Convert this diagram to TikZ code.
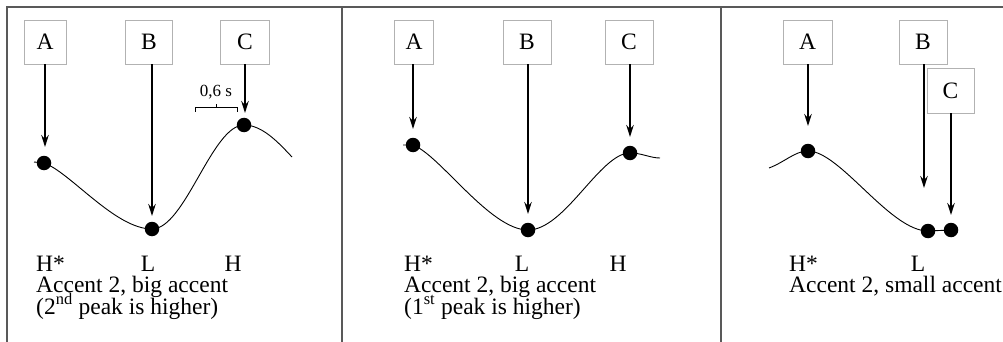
\documentclass[tikz,border=0pt]{standalone}
\usepackage{fontspec}
\setmainfont{Liberation Serif}
\usetikzlibrary{arrows.meta}
\begin{document}
\begin{tikzpicture}[x=1pt,y=-1pt,
  frame/.style={draw=black!65,line width=1.3pt},
  lbox/.style={draw=black!30,fill=white,line width=0.8pt,minimum height=44pt,inner sep=0pt,
     font=\fontsize{23.5}{27}\selectfont},
  arr/.style={line width=1.5pt,-{Stealth[length=12pt,width=7.5pt]}},
  dot/.style={circle,fill=black,minimum size=14.5pt,inner sep=0pt},
  curve/.style={line width=0.9pt},
  lab/.style={anchor=base,inner sep=0pt,text height=15pt,text depth=4pt,
     font=\fontsize{23.5}{27}\selectfont},
  labw/.style={lab,anchor=base west}]
\useasboundingbox (0,0) rectangle (1003,342);
% frame
\draw[frame] (7,342) -- (7,7) -- (1003,7);
\draw[frame] (342,7) -- (342,342);
\draw[frame] (721,7) -- (721,342);

% ---------- panel 1 ----------
\node[lbox,minimum width=42pt] (A1) at (45,42) {A};
\node[lbox,minimum width=47pt] (B1) at (149,42) {B};
\node[lbox,minimum width=49pt] (C1) at (245,42) {C};
\node[dot] (dA1) at (44,163) {};
\node[dot] (dB1) at (152,229) {};
\node[dot] (dC1) at (244,125) {};
\coordinate (tA1) at (45,147);
\coordinate (tB1) at (152,216);
\coordinate (tC1) at (245,113);
\coordinate (s1) at (34,162);
\coordinate (e1) at (292,157);
\draw[curve] (s1) -- (dA1.center) .. controls (70,172) and (115,229) .. (dB1.center)
  .. controls (185,229) and (212,125) .. (dC1.center)
  .. controls (262,125) and (278,142) .. (e1);
\draw[arr] (A1.south -| tA1) -- (tA1);
\draw[arr] (B1.south -| tB1) -- (tB1);
\draw[arr] (C1.south -| tC1) -- (tC1);
% bracket 0,6 s
\coordinate (br1) at (195,112);
\coordinate (br2) at (237,112);
\coordinate (br1t) at (195,107);
\coordinate (br2t) at (237,107);
\draw[line width=0.9pt] (br1) -- (br1t) -- (br2t) -- (br2);
\draw[line width=0.9pt] (216,107) -- (216,104);
\node[anchor=base,inner sep=0pt,font=\fontsize{17}{20}\selectfont] (t06) at (216,97) {0,6 s};
\node[labw] (h1) at (36,271) {H*};
\node[lab] (l1) at (148,271) {L};
\node[lab] (hh1) at (233,271) {H};
\node[labw] (acc1) at (36,292) {Accent 2, big accent};
\node[labw] (p1) at (36,314) {(2\textsuperscript{nd} peak is higher)};

% ---------- panel 2 ----------
\node[lbox,minimum width=39pt] (A2) at (414,42) {A};
\node[lbox,minimum width=48pt] (B2) at (527,42) {B};
\node[lbox,minimum width=48pt] (C2) at (629,42) {C};
\node[dot] (dA2) at (413,145) {};
\node[dot] (dB2) at (528,230) {};
\node[dot] (dC2) at (630,153) {};
\coordinate (tA2) at (413,129);
\coordinate (tB2) at (528,214);
\coordinate (tC2) at (630,137);
\coordinate (s2) at (403,145);
\coordinate (e2) at (660,158);
\draw[curve] (s2) -- (dA2.center) .. controls (440,155) and (490,230) .. (dB2.center)
  .. controls (565,230) and (600,153) .. (dC2.center)
  .. controls (642,153) and (650,158) .. (e2);
\draw[arr] (A2.south -| tA2) -- (tA2);
\draw[arr] (B2.south -| tB2) -- (tB2);
\draw[arr] (C2.south -| tC2) -- (tC2);
\node[labw] (h2) at (404,271) {H*};
\node[lab] (l2) at (522,271) {L};
\node[lab] (hh2) at (618,271) {H};
\node[labw] (acc2) at (404,292) {Accent 2, big accent};
\node[labw] (p2) at (404,314) {(1\textsuperscript{st} peak is higher)};

% ---------- panel 3 ----------
\node[lbox,minimum width=49pt] (A3) at (807.5,42) {A};
\node[lbox,minimum width=48pt] (B3) at (923,42) {B};
\node[dot] (dA3) at (808,151) {};
\node[dot] (dB3) at (928,231) {};
\node[dot] (dC3) at (951,230) {};
\coordinate (tA3) at (808,126);
\coordinate (tB3) at (924,188);
\coordinate (tC3) at (951,215);
\coordinate (s3) at (769,168);
\draw[curve] (s3) .. controls (785,162) and (795,151) .. (dA3.center)
  .. controls (840,151) and (890,231) .. (dB3.center) -- (dC3.center);
\draw[arr] (B3.south -| tB3) -- (tB3);
\node[lbox,minimum width=47pt,minimum height=45pt] (C3) at (950.5,90.5) {C};
\draw[arr] (A3.south -| tA3) -- (tA3);
\draw[arr] (C3.south -| tC3) -- (tC3);
\node[labw] (h3) at (789,271) {H*};
\node[lab] (l3) at (918,271) {L};
\node[labw] (acc3) at (789,292) {Accent 2, small accent};
\end{tikzpicture}
\end{document}
